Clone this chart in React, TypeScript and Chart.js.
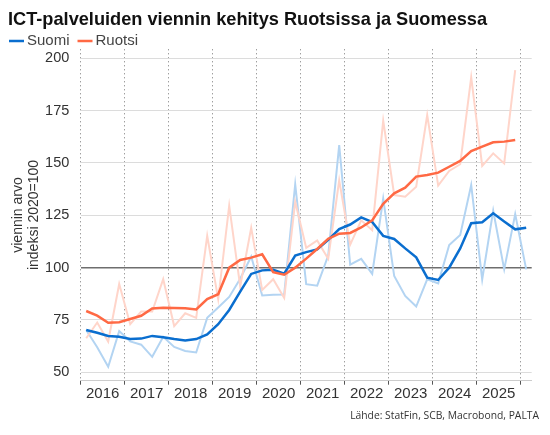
import React, { useEffect, useRef } from "react";
import { Chart, registerables } from "chart.js";

Chart.register(...registerables);

const TITLE = "ICT-palveluiden viennin kehitys Ruotsissa ja Suomessa";
const SOURCE = "Lähde: StatFin, SCB, Macrobond, PALTA";
const Y_TITLE = ["viennin arvo", "indeksi 2020=100"];

const YEARS = ["2016", "2017", "2018", "2019", "2020", "2021", "2022", "2023", "2024", "2025"];
const QUARTERS: string[] = [
  ...YEARS.flatMap((y) => ["Q1", "Q2", "Q3", "Q4"].map((q) => `${y}${q}`)),
  "2026Q1",
];
const Y_TICKS = [50, 75, 100, 125, 150, 175, 200];

const SERIES_NAMES = ["Suomi", "Ruotsi"];

const SUOMI_TREND = [
  70.2, 68.9, 67.4, 67.0, 65.9, 66.1, 67.4, 66.8, 65.9, 65.2, 65.9, 68.1,
  73.0, 79.8, 88.5, 97.0, 98.7, 99.0, 97.1, 105.8, 107.4, 108.7, 113.3, 118.4,
  120.6, 124.0, 121.8, 115.2, 113.7, 109.2, 104.9, 95.2, 94.1, 100.0, 109.2, 121.2,
  121.7, 126.0, 122.0, 118.3, 119.1,
];
const SUOMI_RAW = [
  70.2, 62.0, 52.7, 69.7, 64.8, 63.2, 57.4, 67.0, 62.1, 60.2, 59.5, 76.0,
  81.0, 86.0, 94.7, 105.3, 86.7, 87.0, 87.2, 139.8, 92.1, 91.4, 105.8, 158.5,
  101.4, 104.2, 97.0, 133.0, 96.0, 86.5, 81.4, 94.4, 92.5, 110.8, 115.6, 139.5,
  94.4, 127.2, 99.2, 125.6, 99.2,
];
const RUOTSI_TREND = [
  79.3, 77.1, 73.7, 73.9, 75.5, 77.0, 80.5, 80.9, 80.7, 80.6, 80.0, 85.0,
  87.3, 100.0, 103.7, 104.8, 106.4, 97.8, 96.6, 100.0, 104.3, 108.9, 113.8, 116.2,
  116.6, 119.2, 122.6, 130.5, 135.5, 138.2, 143.5, 144.3, 145.4, 148.2, 151.0, 155.7,
  157.8, 159.9, 160.2, 161.0, null,
];
const RUOTSI_RAW = [
  66.3, 73.8, 64.7, 92.2, 73.0, 79.0, 79.0, 94.5, 72.1, 78.2, 76.0, 115.2,
  85.0, 129.6, 91.0, 119.0, 89.3, 94.5, 85.5, 131.5, 109.5, 113.0, 104.2, 141.7,
  111.0, 122.6, 117.9, 170.2, 134.7, 133.9, 138.7, 172.9, 139.2, 146.2, 149.4, 190.9,
  148.6, 154.6, 149.8, 194.4, null,
];

const FONT = "'Liberation Sans', Arial, Helvetica, sans-serif";
const SOURCE_FONT = "'Open Sans', 'Noto Sans', sans-serif";
const BLUE = "#0a6ecf";
const ORANGE = "#ff6944";
const LIGHT_BLUE = "#b3d4f2";
const LIGHT_ORANGE = "#ffd5ca";

const toPoints = (values: (number | null)[]) =>
  QUARTERS.map((_, i) => ({ x: i, y: values[i] ?? null }));

const legendPlugin = {
  id: "lineLegend",
  afterDraw(chart: any) {
    const ctx = chart.ctx as CanvasRenderingContext2D;
    ctx.save();
    ctx.font = `15px ${FONT}`;
    ctx.textBaseline = "middle";
    ctx.textAlign = "left";
    let x = 9;
    const y = 41;
    SERIES_NAMES.forEach((name) => {
      const ds = chart.data.datasets.find((d: any) => d.label === name);
      if (!ds) return;
      ctx.strokeStyle = ds.borderColor;
      ctx.lineWidth = 2.5;
      ctx.beginPath();
      ctx.moveTo(x, y);
      ctx.lineTo(x + 15, y);
      ctx.stroke();
      ctx.fillStyle = "#444";
      ctx.fillText(name, x + 18, y);
      x += 18 + ctx.measureText(name).width + 8;
    });
    ctx.restore();
  },
};

const sourcePlugin = {
  id: "sourceNote",
  afterDraw(chart: any) {
    const ctx = chart.ctx as CanvasRenderingContext2D;
    ctx.save();
    ctx.font = `10px ${SOURCE_FONT}`;
    const w = ctx.measureText(SOURCE).width || 189;
    const size = Math.min(11.5, (10 * 189) / w);
    ctx.font = `${size}px ${SOURCE_FONT}`;
    ctx.fillStyle = "#333";
    ctx.textAlign = "right";
    ctx.textBaseline = "middle";
    ctx.fillText(SOURCE, 539, 416);
    ctx.restore();
  },
};

export default function App() {
  const ref = useRef<HTMLCanvasElement | null>(null);

  useEffect(() => {
    if (!ref.current) return;
    const chart = new Chart(ref.current, {
      type: "line",
      data: {
        datasets: [
          {
            label: "Ruotsi",
            data: toPoints(RUOTSI_TREND),
            borderColor: ORANGE,
            backgroundColor: ORANGE,
            borderWidth: 2.5,
            pointRadius: 0,
            tension: 0,
          },
          {
            label: "Suomi",
            data: toPoints(SUOMI_TREND),
            borderColor: BLUE,
            backgroundColor: BLUE,
            borderWidth: 2.5,
            pointRadius: 0,
            tension: 0,
          },
          {
            label: "Ruotsi (raaka)",
            data: toPoints(RUOTSI_RAW),
            borderColor: LIGHT_ORANGE,
            backgroundColor: LIGHT_ORANGE,
            borderWidth: 2,
            pointRadius: 0,
            tension: 0,
          },
          {
            label: "Suomi (raaka)",
            data: toPoints(SUOMI_RAW),
            borderColor: LIGHT_BLUE,
            backgroundColor: LIGHT_BLUE,
            borderWidth: 2,
            pointRadius: 0,
            tension: 0,
          },
        ],
      },
      options: {
        responsive: false,
        animation: false,
        events: [],
        layout: { padding: { left: 8, right: 18.3, top: 0, bottom: 24.3 } },
        plugins: {
          legend: { display: false },
          tooltip: { enabled: false },
          title: {
            display: true,
            text: TITLE,
            align: "start",
            color: "#111",
            font: { family: FONT, size: 18.2, weight: "bold", lineHeight: 1.2 },
            padding: { top: 9.1, bottom: 18.36 },
          },
        },
        scales: {
          x: {
            type: "linear",
            min: -0.5,
            max: 40.5,
            afterBuildTicks: (scale: any) => {
              scale.ticks = YEARS.map((_, k) => ({ value: 4 * k + 1.5 }));
            },
            afterFit: (scale: any) => {
              scale.height = 30;
            },
            ticks: {
              autoSkip: false,
              maxRotation: 0,
              minRotation: 0,
              padding: 0,
              color: "#333",
              font: { family: FONT, size: 15 },
              callback: (_v: any, i: number) => YEARS[i],
            },
            grid: {
              offset: true,
              color: "#777",
              lineWidth: 1,
              borderDash: [1, 3],
              tickLength: 4,
              tickColor: "#555",
              tickBorderDash: [],
              drawTicks: true,
            },
            border: { display: true, color: "#ccc", width: 1, dash: [1, 3] },
          },
          y: {
            type: "linear",
            min: 46,
            max: 204.3,
            afterBuildTicks: (scale: any) => {
              scale.ticks = Y_TICKS.map((v) => ({ value: v }));
            },
            afterFit: (scale: any) => {
              scale.width = 72.7;
            },
            ticks: {
              padding: 11.4,
              color: "#333",
              font: { family: FONT, size: 14.5 },
            },
            grid: {
              drawTicks: false,
              color: (c: any) => (c.tick && c.tick.value === 100 ? "#6e6e6e" : "#dcdcdc"),
              lineWidth: (c: any) => (c.tick && c.tick.value === 100 ? 1.5 : 1),
            },
            border: { display: false },
            title: {
              display: true,
              text: Y_TITLE,
              color: "#333",
              font: { family: FONT, size: 14, lineHeight: 1.15 },
              padding: { top: 2, bottom: 0 },
            },
          },
        },
      },
      plugins: [legendPlugin, sourcePlugin],
    } as any);
    return () => chart.destroy();
  }, []);

  return (
    <div style={{ position: "absolute", left: 0, top: 0, width: 550, height: 435, background: "#fff" }}>
      <canvas ref={ref} width={550} height={435} style={{ display: "block" }} />
    </div>
  );
}
